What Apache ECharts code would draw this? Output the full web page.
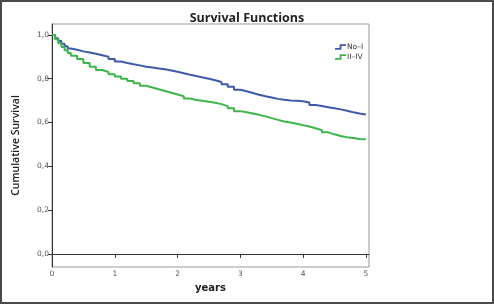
<!DOCTYPE html>
<html>
<head>
<meta charset="utf-8">
<script src="https://cdn.jsdelivr.net/npm/echarts@6/dist/echarts.min.js"></script>
<style>
  html, body { margin: 0; padding: 0; background: #fff; }
  #wrap { position: relative; width: 494px; height: 304px; }
  #chart { position: absolute; left: 0; top: 0; width: 494px; height: 304px; }
  #frame { position: absolute; left: 0; top: 0; width: 494px; height: 304px;
           box-sizing: border-box; border: 2px solid #4a4a4a; pointer-events: none; }
</style>
</head>
<body>
<div id="wrap">
  <div id="chart"></div>
  <div id="frame"></div>
</div>
<script>
// survival, time in years
const years = [0, 0.05, 0.1, 0.15, 0.2, 0.25, 0.3, 0.4, 0.5, 0.6, 0.7, 0.8, 0.9, 1.0,
               1.1, 1.2, 1.3, 1.4, 1.5, 1.6, 1.7, 1.8, 1.9, 2.0,
               2.1, 2.2, 2.3, 2.4, 2.5, 2.6, 2.7, 2.8, 2.9, 3.0,
               3.1, 3.2, 3.3, 3.4, 3.5, 3.6, 3.7, 3.8, 3.9, 4.0,
               4.1, 4.2, 4.3, 4.4, 4.5, 4.6, 4.7, 4.8, 4.9, 5.0];
const noI = [1.0, 0.985, 0.972, 0.96, 0.948, 0.938, 0.932, 0.925, 0.92, 0.914, 0.907, 0.9, 0.89, 0.879,
             0.872, 0.866, 0.861, 0.855, 0.851, 0.847, 0.843, 0.838, 0.832, 0.825,
             0.818, 0.812, 0.806, 0.8, 0.793, 0.785, 0.775, 0.763, 0.75, 0.743,
             0.735, 0.727, 0.72, 0.714, 0.708, 0.704, 0.701, 0.699, 0.697, 0.691,
             0.68, 0.675, 0.67, 0.665, 0.66, 0.654, 0.647, 0.641, 0.637, 0.634];
const iiIV = [1.0, 0.98, 0.962, 0.945, 0.93, 0.917, 0.905, 0.89, 0.872, 0.855, 0.84, 0.831, 0.82, 0.81,
              0.8, 0.79, 0.779, 0.768, 0.76, 0.752, 0.744, 0.736, 0.728, 0.72,
              0.71, 0.703, 0.699, 0.695, 0.69, 0.684, 0.675, 0.665, 0.652, 0.647,
              0.641, 0.635, 0.628, 0.62, 0.612, 0.605, 0.6, 0.594, 0.588, 0.582,
              0.574, 0.565, 0.555, 0.546, 0.538, 0.533, 0.529, 0.525, 0.524, 0.523];
const seriesNames = ['No–I', 'II–IV'];
const xTicks = [0, 1, 2, 3, 4, 5];
const yTicks = [0, 0.2, 0.4, 0.6, 0.8, 1.0];

const chart = echarts.init(document.getElementById('chart'), null, { renderer: 'canvas' });

// little step shape like the spss legend
const stepIcon = 'path://M0,4 L5,4 L5,0 L12,0 L12,2 L7,2 L7,6 L0,6 Z';
const fmt = (v) => v.toFixed(1).replace('.', ',');

const option = {
    animation: false,
    title: {
        text: 'Survival Functions',
        left: 'center',
        top: 7,
        textStyle: { fontFamily: 'Open Sans', fontSize: 12.5, fontWeight: 'bold', color: '#222' },
    },
    legend: {
        data: seriesNames.map((n) => ({ name: n, icon: stepIcon })),
        orient: 'vertical',
        left: 330,
        top: 38,
        itemWidth: 11,
        itemHeight: 6,
        itemGap: 2,
        textStyle: { fontFamily: 'DejaVu Sans', fontSize: 7.5, color: '#333', padding: [0, 0, 0, -4] },
    },
    grid: {
        left: 52,
        right: 125,
        top: 24,
        bottom: 37,
        show: true,
        borderColor: '#999',
        borderWidth: 1,
        backgroundColor: '#fff',
    },
    xAxis: {
        type: 'value',
        min: 0,
        max: 5.05,
        name: 'years',
        nameLocation: 'middle',
        nameGap: 16,
        nameTextStyle: { fontFamily: 'DejaVu Sans', fontSize: 10, fontWeight: 'bold', color: '#222' },
        axisLine: { show: true, lineStyle: { color: '#333', width: 1 } },
        axisTick: { show: true, length: 4, customValues: xTicks, lineStyle: { color: '#333' } },
        axisLabel: {
            customValues: xTicks,
            fontFamily: 'DejaVu Sans',
            fontSize: 7.5,
            color: '#555',
            margin: 3,
        },
        splitLine: { show: false },
    },
    yAxis: {
        type: 'value',
        min: -0.06,
        max: 1.05,
        name: 'Cumulative Survival',
        nameLocation: 'middle',
        nameGap: 30,
        nameTextStyle: { fontFamily: 'Open Sans', fontSize: 10.5, fontWeight: 600, color: '#222' },
        axisLine: { show: true, lineStyle: { color: '#333', width: 1 } },
        axisTick: { show: true, length: 4, customValues: yTicks, lineStyle: { color: '#333' } },
        axisLabel: {
            customValues: yTicks,
            formatter: fmt,
            fontFamily: 'DejaVu Sans',
            fontSize: 7.5,
            color: '#555',
            margin: 3,
        },
        splitLine: { show: false },
    },
    series: [
        {
            name: seriesNames[0],
            type: 'line',
            step: 'end',
            showSymbol: false,
            data: years.map((t, i) => [t, noI[i]]),
            itemStyle: { color: '#3f5aab' },
            lineStyle: { width: 2, color: '#3f5aab' },
        },
        {
            name: seriesNames[1],
            type: 'line',
            step: 'end',
            showSymbol: false,
            data: years.map((t, i) => [t, iiIV[i]]),
            itemStyle: { color: '#3cb54a' },
            lineStyle: { width: 2, color: '#3cb54a' },
        },
    ],
};

chart.setOption(option);
</script>
</body>
</html>
